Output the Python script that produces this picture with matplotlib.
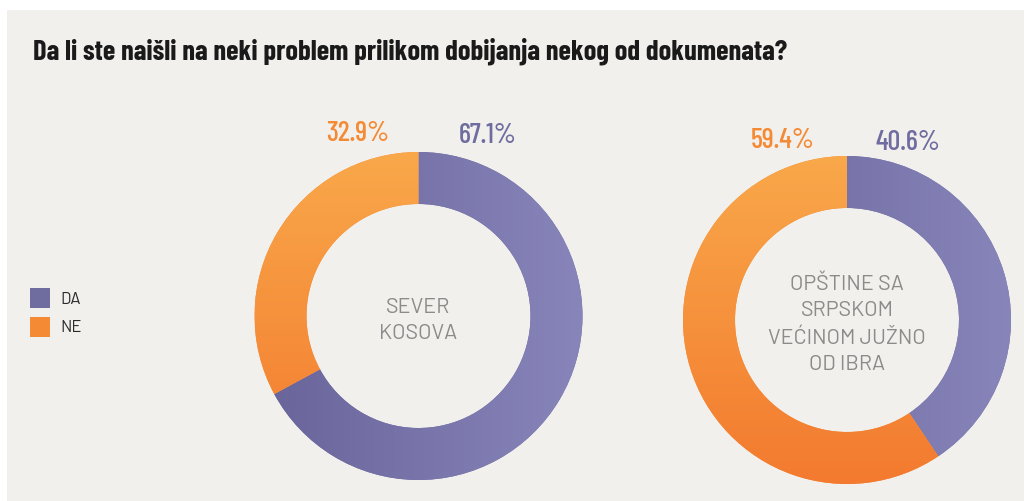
import numpy as np
import matplotlib
matplotlib.use("Agg")
from matplotlib import pyplot as plt
from matplotlib.patches import Rectangle

# podaci
naslov = "Da li ste naišli na neki problem prilikom dobijanja nekog od dokumenata?"
kategorije = ["DA", "NE"]
regioni = ["SEVER\nKOSOVA", "OPŠTINE SA\nSRPSKOM\nVEĆINOM JUŽNO\nOD IBRA"]
da_vrednosti = [67.1, 40.6]
ne_vrednosti = [32.9, 59.4]

W, H = 1024, 502
BG = "#f1f0ec"
LJUBICASTA = "#6f6ca0"
NARANDZASTA = "#f58a35"
SIVA = "#8b8b8b"

fam = ["Barlow Condensed", "IBM Plex Sans Condensed", "DejaVu Sans"]
fam2 = ["Barlow", "Barlow Semi Condensed", "DejaVu Sans"]

fig = plt.figure(figsize=(W / 100, H / 100), dpi=100)
fig.patch.set_facecolor("white")
fig.patches.append(Rectangle((7 / W, 0), 1, (H - 11) / H, transform=fig.transFigure,
                             facecolor=BG, edgecolor="none", zorder=-1))

fig.text(33 / W, 1 - 51 / H, naslov, fontsize=20.5, fontweight="bold", family=fam,
         color="#1a1a1a", va="center", ha="left")


def px(x, y):
    return x / W, 1 - y / H


def gradijent(boje, smer):
    n = 256
    t = np.linspace(0, 1, n)
    c0 = np.array(matplotlib.colors.to_rgb(boje[0]))
    c1 = np.array(matplotlib.colors.to_rgb(boje[1]))
    img = c0[None, :] + (c1 - c0)[None, :] * t[:, None]
    if smer == "h":
        return np.tile(img[None, :, :], (n, 1, 1))
    return np.tile(img[:, None, :], (1, n, 1))


centri = [(418.5, 317), (847, 321)]
R = 164
r_in = 112
for i, (cx, cy) in enumerate(centri):
    ax = fig.add_axes([(cx - R) / W, 1 - (cy + R) / H, 2 * R / W, 2 * R / H])
    ax.axis("off")
    wedges, _ = ax.pie([da_vrednosti[i], ne_vrednosti[i]], startangle=90, counterclock=False,
                       radius=1, wedgeprops=dict(width=1 - r_in / R, edgecolor="none"),
                       colors=[LJUBICASTA, NARANDZASTA])
    # gradijenti
    im = ax.imshow(gradijent(["#68649a", "#8885bb"], "h"), extent=[-1, 1, -1, 1],
                   origin="lower", zorder=3, aspect="auto")
    im.set_clip_path(wedges[0])
    im2 = ax.imshow(gradijent(["#f37a2f", "#f9a84a"], "v"), extent=[-1, 1, -1, 1],
                    origin="lower", zorder=3, aspect="auto")
    im2.set_clip_path(wedges[1])
    ax.set_xlim(-1, 1)
    ax.set_ylim(-1, 1)

    ax.text(0, -0.02, regioni[i], ha="center", va="center", fontsize=15.5, color=SIVA,
            family=fam2, linespacing=1.5)

# procenti
pozicije = [((358, 134), (488, 136)), ((783, 141), (908, 143))]
for i, ((xn, yn), (xd, yd)) in enumerate(pozicije):
    fig.text(*px(xn, yn), f"{ne_vrednosti[i]:.1f}%", color="#f58a35", fontsize=20.5,
             fontweight="medium", family=fam, ha="center", va="center")
    fig.text(*px(xd, yd), f"{da_vrednosti[i]:.1f}%", color="#6f6ca0", fontsize=20.5,
             fontweight="medium", family=fam, ha="center", va="center")

# legenda
for j, (k, c) in enumerate(zip(kategorije, [LJUBICASTA, NARANDZASTA])):
    y = 289 + j * 29
    fig.patches.append(Rectangle((30 / W, 1 - (y + 20) / H), 20 / W, 20 / H,
                                 transform=fig.transFigure, facecolor=c, edgecolor="none"))
    fig.text(60 / W, 1 - (y + 10) / H, k, fontsize=12, family=fam2, color="#2a2a2a",
             va="center", ha="left")

fig.savefig("out.png", dpi=100, facecolor=fig.get_facecolor())
